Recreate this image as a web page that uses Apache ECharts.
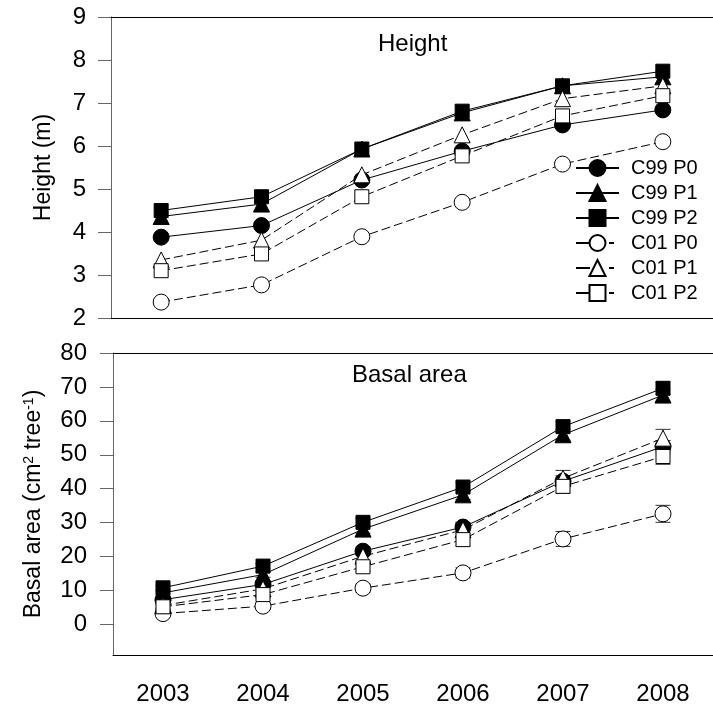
<!DOCTYPE html>
<html><head>
<meta charset="UTF-8">
<title>Height and basal area</title>
<style>
  html, body { margin: 0; padding: 0; background: #fff; }
  #chart { width: 713px; height: 709px; }
</style>
</head>
<body>
<div id="chart"></div>
<script src="https://cdn.jsdelivr.net/npm/echarts@6.0.0/dist/echarts.min.js"></script>
<script>
  // data
  const years = ['2003', '2004', '2005', '2006', '2007', '2008'];
  const seriesNames = ['C99 P0', 'C99 P1', 'C99 P2', 'C01 P0', 'C01 P1', 'C01 P2'];

  // height (m)
  const heightC99P0 = [3.88, 4.15, 5.21, 5.88, 6.49, 6.84];
  const heightC99P1 = [4.36, 4.65, 5.93, 6.77, 7.40, 7.61];
  const heightC99P2 = [4.50, 4.82, 5.93, 6.81, 7.40, 7.74];
  const heightC01P0 = [2.37, 2.77, 3.89, 4.69, 5.58, 6.10];
  const heightC01P1 = [3.35, 3.81, 5.33, 6.26, 7.10, 7.40];
  const heightC01P2 = [3.10, 3.49, 4.82, 5.77, 6.70, 7.17];

  // basal area (cm2 tree-1) and standard errors
  const basalC99P0 = [7.3, 11.8, 21.6, 28.7, 42.2, 52.4];
  const basalC99P1 = [9.3, 14.7, 28.1, 38.2, 55.9, 67.6];
  const basalC99P2 = [10.8, 17.2, 30.1, 40.5, 58.3, 69.6];
  const basalC01P0 = [3.2, 5.4, 10.7, 15.2, 25.2, 32.6];
  const basalC01P1 = [5.6, 10.5, 20.1, 27.9, 43.1, 54.9];
  const basalC01P2 = [5.2, 8.8, 17.0, 25.0, 40.7, 49.5];
  const errC99P0 = [0.6, 0.8, 1.2, 1.4, 1.6, 1.8];
  const errC99P1 = [0.6, 0.8, 1.2, 1.4, 1.6, 1.8];
  const errC99P2 = [0.6, 0.8, 1.2, 1.4, 1.6, 1.8];
  const errC01P0 = [0.8, 0.9, 1.2, 1.5, 2.2, 2.5];
  const errC01P1 = [0.8, 1.0, 1.5, 2.0, 2.3, 2.6];
  const errC01P2 = [0.7, 0.9, 1.3, 1.8, 2.0, 2.3];

  const heightTicks = [2, 3, 4, 5, 6, 7, 8, 9];
  const basalTicks = [0, 10, 20, 30, 40, 50, 60, 70, 80];

  const heightSets = [heightC99P0, heightC99P1, heightC99P2, heightC01P0, heightC01P1, heightC01P2];
  const basalSets = [basalC99P0, basalC99P1, basalC99P2, basalC01P0, basalC01P1, basalC01P2];
  const basalErrs = [errC99P0, errC99P1, errC99P2, errC01P0, errC01P1, errC01P2];

  // marker look per treatment
  const looks = [
    { symbol: 'circle', size: 16, fill: '#000', dashed: false },
    { symbol: 'triangle', size: 16, fill: '#000', dashed: false },
    { symbol: 'rect', size: 14, fill: '#000', dashed: false },
    { symbol: 'circle', size: 16, fill: '#fff', dashed: true },
    { symbol: 'triangle', size: 16, fill: '#fff', dashed: true },
    { symbol: 'rect', size: 14, fill: '#fff', dashed: true }
  ];

  const font = 'Liberation Sans, Arial, sans-serif';

  function lineSeries(name, values, look, g) {
    return {
      name: name,
      type: 'line',
      xAxisIndex: g * 2,
      yAxisIndex: g,
      data: values,
      symbol: look.symbol,
      symbolSize: look.size,
      showSymbol: true,
      z: 3,
      lineStyle: { color: '#000', width: 1, type: look.dashed ? [9, 4] : 'solid' },
      itemStyle: { color: look.fill, borderColor: '#000', borderWidth: 1 },
      emphasis: { disabled: true }
    };
  }

  // error bars drawn under the markers
  function errorSeries(g, sets, errs) {
    const data = [];
    sets.forEach((vals, i) => {
      vals.forEach((v, j) => data.push([j, v - errs[i][j], v + errs[i][j]]));
    });
    return {
      type: 'custom',
      xAxisIndex: g * 2,
      yAxisIndex: g,
      z: 1,
      silent: true,
      encode: { x: 0, y: [1, 2] },
      data: data,
      renderItem: function (params, api) {
        const lo = api.coord([api.value(0), api.value(1)]);
        const hi = api.coord([api.value(0), api.value(2)]);
        const w = 7.5;
        const st = { stroke: '#333', lineWidth: 1 };
        return {
          type: 'group',
          children: [
            { type: 'line', shape: { x1: lo[0], y1: lo[1], x2: hi[0], y2: hi[1] }, style: st },
            { type: 'line', shape: { x1: lo[0] - w, y1: lo[1], x2: lo[0] + w, y2: lo[1] }, style: st },
            { type: 'line', shape: { x1: hi[0] - w, y1: hi[1], x2: hi[0] + w, y2: hi[1] }, style: st }
          ]
        };
      }
    };
  }

  function bottomAxis(g, showLabels) {
    return {
      gridIndex: g,
      type: 'category',
      data: years,
      position: 'bottom',
      boundaryGap: true,
      axisLine: { onZero: false, lineStyle: { color: '#000', width: 1 } },
      axisTick: { alignWithLabel: true, length: 13, lineStyle: { color: '#444' } },
      axisLabel: { show: showLabels, fontSize: 24, color: '#000', margin: 27, fontFamily: font },
      splitLine: { show: false }
    };
  }

  function topAxis(g) {
    return {
      gridIndex: g,
      type: 'category',
      data: years,
      position: 'top',
      axisLine: { onZero: false, lineStyle: { color: '#000', width: 1 } },
      axisTick: { show: false },
      axisLabel: { show: false },
      splitLine: { show: false }
    };
  }

  const series = [];
  series.push(errorSeries(1, basalSets, basalErrs));
  seriesNames.forEach((n, i) => series.push(lineSeries(n, heightSets[i], looks[i], 0)));
  seriesNames.forEach((n, i) => series.push(lineSeries(n, basalSets[i], looks[i], 1)));

  // legend keys: dashed ones show a long lead segment and a short trailing dash
  const legendData = seriesNames.map((n, i) => looks[i].dashed
    ? { name: n, lineStyle: { type: [14, 19, 5, 40] } }
    : { name: n });

  const chart = echarts.init(document.getElementById('chart'));
  chart.setOption({
    animation: false,
    backgroundColor: '#fff',
    textStyle: { fontFamily: font, color: '#000' },
    title: [
      { text: 'Height', left: 378, top: 32, padding: 0,
        textStyle: { fontSize: 24, fontWeight: 'normal', color: '#000', fontFamily: font } },
      { text: 'Basal area', left: 352, top: 363, padding: 0,
        textStyle: { fontSize: 24, fontWeight: 'normal', color: '#000', fontFamily: font } }
    ],
    legend: {
      data: legendData,
      orient: 'vertical',
      left: 575,
      top: 158,
      padding: 0,
      itemWidth: 43,
      itemHeight: 20,
      itemGap: 5,
      selectedMode: false,
      textStyle: { fontSize: 20, color: '#000', fontFamily: font, padding: [0, 0, 0, 7] }
    },
    grid: [
      { left: 111, top: 17, width: 606, height: 301 },
      { left: 113, top: 353, width: 606, height: 302 }
    ],
    xAxis: [bottomAxis(0, false), topAxis(0), bottomAxis(1, true), topAxis(1)],
    yAxis: [
      {
        gridIndex: 0,
        type: 'value',
        min: 2,
        max: 9,
        interval: 1,
        axisLine: { show: true, onZero: false, lineStyle: { color: '#666' } },
        axisTick: { show: true, length: 13, lineStyle: { color: '#666' } },
        axisLabel: { fontSize: 24, color: '#000', margin: 25, fontFamily: font,
          customValues: heightTicks },
        splitLine: { show: false },
        name: 'Height (m)',
        nameLocation: 'middle',
        nameGap: 56,
        nameTextStyle: { fontSize: 23, color: '#000', fontFamily: font }
      },
      {
        gridIndex: 1,
        type: 'value',
        min: -9,
        max: 80,
        axisLine: { show: true, onZero: false, lineStyle: { color: '#666' } },
        axisTick: { show: true, length: 13, lineStyle: { color: '#666' }, customValues: basalTicks },
        axisLabel: { fontSize: 24, color: '#000', margin: 26, fontFamily: font, customValues: basalTicks },
        splitLine: { show: false },
        name: '{a|Basal area (cm}{s|2}{a| tree}{s|-1}{a|)}',
        nameLocation: 'middle',
        nameGap: 68,
        nameTextStyle: {
          color: '#000',
          fontFamily: font,
          rich: {
            a: { fontSize: 23, color: '#000', fontFamily: font },
            s: { fontSize: 14, color: '#000', fontFamily: font, verticalAlign: 'top' }
          }
        }
      }
    ],
    series: series
  });
</script>
</body>
</html>
